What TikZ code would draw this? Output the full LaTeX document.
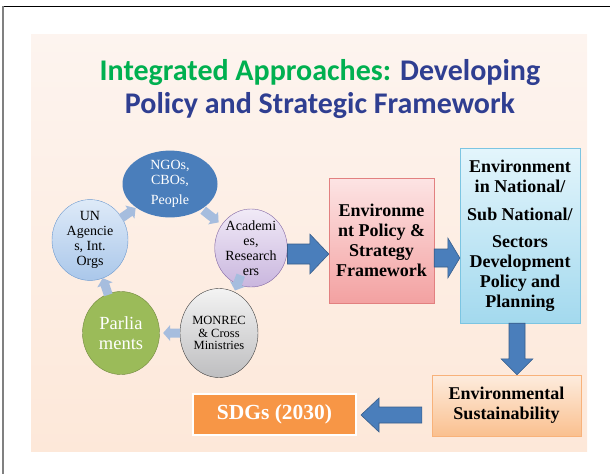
\documentclass[tikz,border=0pt]{standalone}
\usepackage{fontspec}
\setmainfont{Liberation Serif}
\newfontfamily\titlefont{Carlito}
\usetikzlibrary{calc,shapes.geometric}

\definecolor{titlegreen}{RGB}{0,176,80}
\definecolor{titleblue}{RGB}{47,62,145}
\definecolor{arrowblue}{RGB}{74,126,187}
\definecolor{arrowedge}{RGB}{56,93,138}
\definecolor{cyclearrow}{RGB}{166,189,222}

\tikzset{
  cyc/.style={ellipse,inner sep=0pt,align=center,font=\fontsize{14}{15}\selectfont},
  box/.style={rectangle,inner sep=0pt,align=center,font=\bfseries\fontsize{18}{20}\selectfont},
  bigarrow/.style={fill=arrowblue,draw=arrowedge,line width=0.6pt},
  smallarrow/.style={fill=cyclearrow,draw=none}
}

% block arrow: style, start, tip, shaft half width, head half width, head length
\newcommand{\blockarrow}[6]{%
  \coordinate (hb) at ($(#3)!#6!(#2)$);
  \draw[#1] ($(#2)!#4!90:(#3)$) -- ($(hb)!#4!90:(#3)$) -- ($(hb)!#5!90:(#3)$)
    -- (#3) -- ($(hb)!#5!-90:(#3)$) -- ($(hb)!#4!-90:(#3)$) -- ($(#2)!#4!-90:(#3)$) -- cycle;}

\begin{document}
\begin{tikzpicture}[x=1pt,y=-1pt]
  \useasboundingbox (0,0) rectangle (610,474);
  % frame and background
  \draw[line width=1pt] (3,6) -- (610,6);
  \draw[gray,line width=1.6pt] (3,6) -- (3,474);
  \shade[top color={rgb,255:red,253;green,244;blue,239},bottom color={rgb,255:red,253;green,232;blue,217}]
    (31,34) rectangle (587,451);
  % title
  \node[font=\titlefont\bfseries\fontsize{30}{32}\selectfont] (title1) at (320,73)
    {\textcolor{titlegreen}{Integrated Approaches:} \textcolor{titleblue}{Developing}};
  \node[font=\titlefont\bfseries\fontsize{30}{32}\selectfont,text=titleblue] (title2) at (320,106)
    {Policy and Strategic Framework};
  % cycle of actors
  \node[cyc,fill=arrowblue,text=white,minimum width=95pt,minimum height=66pt] (ngo) at (170,184)
    {NGOs,\\CBOs,\\[5pt]People};
  \node[cyc,top color={rgb,255:red,222;green,234;blue,248},bottom color={rgb,255:red,170;green,199;blue,234},
    draw={rgb,255:red,108;green,153;blue,207},minimum width=76pt,minimum height=75pt] (un) at (90,240)
    {UN\\Agencie\\s, Int.\\Orgs};
  \node[cyc,top color={rgb,255:red,241;green,234;blue,247},bottom color={rgb,255:red,201;green,182;blue,222},
    draw={rgb,255:red,128;green,100;blue,162},minimum width=72pt,minimum height=78pt] (acad) at (251,248)
    {Academi\\es,\\Research\\ers};
  \node[cyc,top color={rgb,255:red,243;green,243;blue,243},bottom color={rgb,255:red,190;green,190;blue,192},
    draw={rgb,255:red,64;green,64;blue,64},minimum width=78pt,minimum height=89pt,
    font=\fontsize{12.5}{12.5}\selectfont] (monrec) at (219,333)
    {MONREC\\\& Cross\\Ministries};
  \node[cyc,fill={rgb,255:red,155;green,187;blue,89},draw={rgb,255:red,113;green,137;blue,63},
    text=white,minimum width=77pt,minimum height=83pt,font=\fontsize{18.5}{20}\selectfont] (parl) at (121,333)
    {Parlia\\ments};
  % small cycle arrows
  \blockarrow{smallarrow}{$(un)!0.39!(ngo)$}{$(un)!0.57!(ngo)$}{4.5pt}{8pt}{7pt}
  \blockarrow{smallarrow}{$(ngo)!0.41!(acad)$}{$(ngo)!0.6!(acad)$}{4.5pt}{8pt}{7pt}
  \blockarrow{smallarrow}{$(acad)!0.32!(monrec)$}{$(acad)!0.5!(monrec)$}{4.5pt}{8pt}{7pt}
  \blockarrow{smallarrow}{$(monrec)!0.4!(parl)$}{$(monrec)!0.57!(parl)$}{4.5pt}{8pt}{7pt}
  \blockarrow{smallarrow}{$(parl)!0.41!(un)$}{$(parl)!0.59!(un)$}{4.5pt}{8pt}{7pt}
  % policy boxes
  \node[box,top color={rgb,255:red,253;green,228;blue,228},bottom color={rgb,255:red,243;green,161;blue,161},
    draw={rgb,255:red,226;green,128;blue,128},minimum width=105pt,minimum height=125pt] (policy) at (381.5,240.5)
    {Environme\\nt Policy \&\\Strategy\\Framework};
  \node[box,top color={rgb,255:red,227;green,245;blue,252},bottom color={rgb,255:red,163;green,217;blue,238},
    draw={rgb,255:red,124;green,197;blue,226},minimum width=120pt,minimum height=175pt] (plan) at (520,235.5)
    {Environment\\in National/\\[8pt]Sub National/\\[7pt]Sectors\\Development\\Policy and\\Planning};
  \node[box,top color={rgb,255:red,253;green,236;blue,222},bottom color={rgb,255:red,250;green,192;blue,143},
    draw={rgb,255:red,248;green,178;blue,122},minimum width=149pt,minimum height=61pt] (sust) at (506.5,405.5)
    {Environmental\\Sustainability};
  \node[box,fill={rgb,255:red,247;green,150;blue,70},draw=white,line width=2pt,text=white,
    minimum width=163pt,minimum height=41pt,font=\bfseries\fontsize{21.5}{24}\selectfont] (sdg) at (274.5,414.5)
    {SDGs (2030)};
  % main arrows
  \coordinate (a1s) at (acad.east |- 0,254);
  \coordinate (a1e) at (policy.west |- 0,254);
  \blockarrow{bigarrow}{a1s}{a1e}{10pt}{20pt}{19pt}
  \coordinate (a2s) at (policy.east |- 0,258);
  \coordinate (a2e) at (plan.west |- 0,258);
  \blockarrow{bigarrow}{a2s}{a2e}{9pt}{20pt}{12pt}
  \coordinate (a3s) at (plan.south -| 517,0);
  \coordinate (a3e) at (sust.north -| 517,0);
  \blockarrow{bigarrow}{a3s}{a3e}{8pt}{16pt}{16pt}
  \coordinate (a4s) at ($(sust.west |- 0,415)+(-10,0)$);
  \coordinate (a4e) at ($(sdg.east |- 0,415)+(4,0)$);
  \blockarrow{bigarrow}{a4s}{a4e}{8pt}{17pt}{18pt}
\end{tikzpicture}
\end{document}
